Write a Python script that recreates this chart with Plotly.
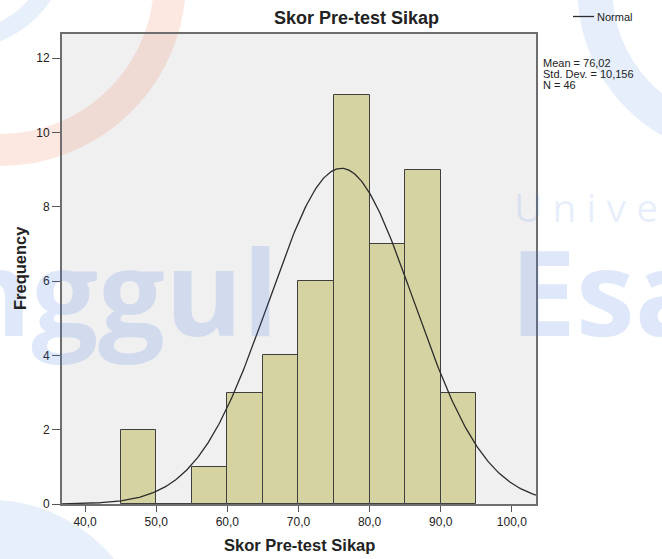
import numpy as np
import plotly.graph_objects as go

# Data
bin_starts = [45, 50, 55, 60, 65, 70, 75, 80, 85, 90]
frequencies = [2, 0, 1, 3, 4, 6, 11, 7, 9, 3]
bin_width = 5
mean_val = 76.02
std_val = 10.156
n_val = 46
x_tick_vals = [40, 50, 60, 70, 80, 90, 100]
x_tick_text = ["40,0", "50,0", "60,0", "70,0", "80,0", "90,0", "100,0"]
y_tick_vals = [0, 2, 4, 6, 8, 10, 12]
stats_lines = ["Mean = 76,02", "Std. Dev. = 10,156", "N = 46"]

FONT = "Liberation Sans, Arial, sans-serif"
W, H = 662, 559
L, R, T, B = 62, 536, 34, 504


def px(x):
    return (x - L) / (R - L)


def py(y):
    return (B - y) / (B - T)


fig = go.Figure()

centers = [s + bin_width / 2 for s in bin_starts]
fig.add_trace(go.Bar(
    x=centers, y=frequencies, width=[bin_width] * len(centers),
    marker=dict(color="#D6D3A2", line=dict(color="#3F3F3F", width=1)),
    showlegend=False, hoverinfo="x+y",
))

xs = np.linspace(36.7, 103.4, 400)
ys = n_val * bin_width / (std_val * np.sqrt(2 * np.pi)) * np.exp(-0.5 * ((xs - mean_val) / std_val) ** 2)
fig.add_trace(go.Scatter(
    x=xs, y=ys, mode="lines", line=dict(color="#2B2B2B", width=1.3),
    name="Normal", showlegend=False,
))

fig.update_layout(
    width=W, height=H,
    margin=dict(l=L, r=W - R, t=T, b=H - B),
    paper_bgcolor="white", plot_bgcolor="#F0F0F0",
    bargap=0, showlegend=False,
    font=dict(family=FONT, size=12, color="#222"),
)

fig.update_xaxes(
    range=[36.75, 103.4], tickvals=x_tick_vals, ticktext=x_tick_text,
    ticks="outside", ticklen=6, tickcolor="#555", showgrid=False, zeroline=False,
    showline=True, linecolor="#6E6E6E", linewidth=2, mirror=True, automargin=False,
    tickfont=dict(size=12, family=FONT, color="#222"),
)
fig.update_yaxes(
    range=[0, 12.65], tickvals=y_tick_vals, ticks="outside", ticklen=8, tickcolor="#555",
    showgrid=False, zeroline=False, automargin=False,
    showline=True, linecolor="#6E6E6E", linewidth=2, mirror=True,
    tickfont=dict(size=12, family=FONT, color="#222"),
)

# Watermark (background logo of the source image)
wm_blue = "rgba(60,120,225,0.17)"
shapes = [
    dict(type="circle", xref="paper", yref="paper", layer="below",
         x0=px(-170), x1=px(170), y0=py(150), y1=py(-190),
         line=dict(color="rgba(240,120,90,0.18)", width=32), fillcolor="rgba(0,0,0,0)"),
    dict(type="circle", xref="paper", yref="paper", layer="below",
         x0=px(-140), x1=px(60), y0=py(40), y1=py(-160),
         line=dict(color="rgba(60,120,225,0.12)", width=18), fillcolor="rgba(0,0,0,0)"),
    dict(type="circle", xref="paper", yref="paper", layer="below",
         x0=px(595), x1=px(895), y0=py(140), y1=py(-160),
         line=dict(color="rgba(60,120,225,0.13)", width=35), fillcolor="rgba(0,0,0,0)"),
    dict(type="circle", xref="paper", yref="paper", layer="below",
         x0=px(-170), x1=px(150), y0=py(820), y1=py(500),
         line=dict(width=0), fillcolor="rgba(60,120,225,0.12)"),
    # Legend line
    dict(type="line", xref="paper", yref="paper",
         x0=px(573), x1=px(594), y0=py(16.5), y1=py(16.5),
         line=dict(color="#2B2B2B", width=1.3)),
]
fig.update_layout(shapes=shapes)

ann = []
ann.append(dict(x=px(280), y=py(290), text="<b>nggul</b>", xanchor="right", yanchor="middle",
                font=dict(family="Open Sans", size=118, color=wm_blue)))
ann.append(dict(x=px(508), y=py(290), text="<b>Esa</b>", xanchor="left", yanchor="middle",
                font=dict(family="Open Sans", size=118, color=wm_blue)))
ann.append(dict(x=px(512), y=py(206), text="U n i v e", xanchor="left", yanchor="middle",
                font=dict(family="Open Sans", size=39, color="rgba(60,120,225,0.12)")))

# Titles
ann.append(dict(x=px(356), y=py(18), text="<b>Skor Pre-test Sikap</b>", xanchor="center", yanchor="middle",
                font=dict(family=FONT, size=18, color="#222")))
ann.append(dict(x=px(299), y=py(545), text="<b>Skor Pre-test Sikap</b>", xanchor="center", yanchor="middle",
                font=dict(family=FONT, size=16.5, color="#222")))
ann.append(dict(x=px(20), y=py(268), text="<b>Frequency</b>", xanchor="center", yanchor="middle",
                textangle=-90, font=dict(family=FONT, size=16.5, color="#222")))
# Legend text
ann.append(dict(x=px(595), y=py(16.5), text="Normal", xanchor="left", yanchor="middle",
                font=dict(family=FONT, size=11, color="#222")))
# Stats
for i, line in enumerate(stats_lines):
    ann.append(dict(x=px(541), y=py(63 + 11 * i), text=line, xanchor="left", yanchor="middle",
                    font=dict(family=FONT, size=11, color="#222")))

for a in ann:
    a.update(xref="paper", yref="paper", showarrow=False)
fig.update_layout(annotations=ann)

fig.write_html(
    "out.html",
    config={"displayModeBar": False},
    post_script="document.body.style.margin='0';document.body.style.overflow='hidden';",
)
